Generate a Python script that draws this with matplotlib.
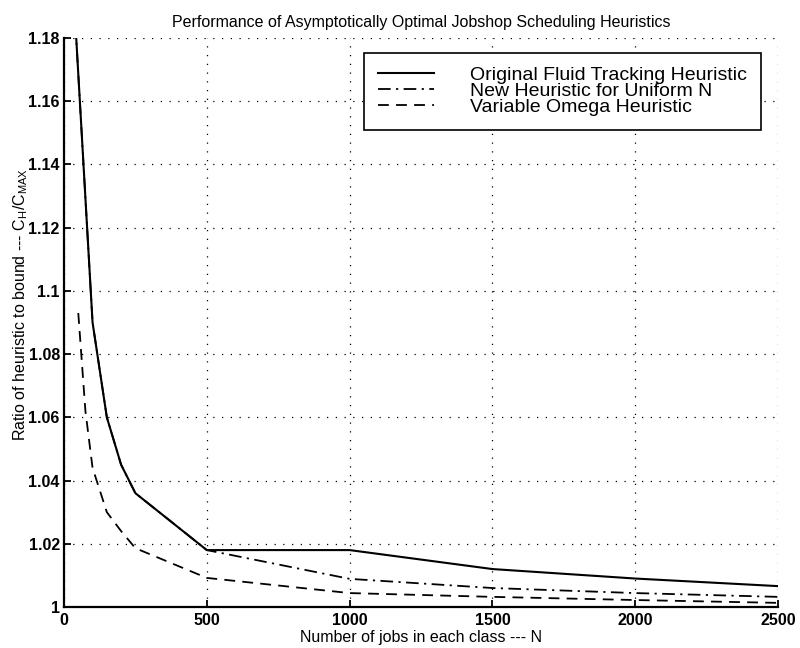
import matplotlib
matplotlib.use('Agg')
import matplotlib.pyplot as plt
from matplotlib.ticker import FuncFormatter

# values
n_fluid = [25, 100, 150, 200, 250, 500, 1000, 1500, 2000, 2500]
ratio_fluid = [1.208, 1.090, 1.060, 1.045, 1.036, 1.018, 1.018, 1.012, 1.009, 1.0066]

n_uniform = [25, 100, 150, 200, 250, 500, 1000, 1500, 2000, 2500]
ratio_uniform = [1.208, 1.090, 1.060, 1.045, 1.036, 1.018, 1.0089, 1.006, 1.0044, 1.0032]

n_omega = [50, 75, 100, 150, 200, 250, 500, 1000, 1500, 2000, 2500]
ratio_omega = [1.093, 1.062, 1.044, 1.030, 1.024, 1.0186, 1.0092, 1.0044, 1.0032, 1.0022, 1.0013]

labels = ['Original Fluid Tracking Heuristic',
          'New Heuristic for Uniform N',
          'Variable Omega Heuristic']

x_ticks = [0, 500, 1000, 1500, 2000, 2500]
y_ticks = [1.0, 1.02, 1.04, 1.06, 1.08, 1.1, 1.12, 1.14, 1.16, 1.18]

narrow = ['Liberation Sans Narrow', 'Liberation Sans', 'DejaVu Sans']
plain = ['Liberation Sans', 'DejaVu Sans']

fig = plt.figure(figsize=(8, 6.48), dpi=100)
ax = fig.add_axes([0.08, 0.0633, 0.8925, 0.878])

ax.plot(n_fluid, ratio_fluid, color='black', linestyle='-', linewidth=1.5, label=labels[0])
ax.plot(n_uniform, ratio_uniform, color='black', linestyle=(0, (7, 3, 1.2, 3)), linewidth=1.3, label=labels[1])
ax.plot(n_omega, ratio_omega, color='black', linestyle=(0, (6, 4)), linewidth=1.3, label=labels[2])

ax.set_xlim(0, 2500)
ax.set_ylim(1.0, 1.18)
ax.set_xticks(x_ticks)
ax.set_yticks(y_ticks)
ax.yaxis.set_major_formatter(FuncFormatter(lambda v, p: '%g' % round(v, 2)))

ax.grid(True, color='black', linestyle=(0, (1, 6)), linewidth=0.9)
ax.spines['top'].set_visible(False)
ax.spines['right'].set_visible(False)
ax.spines['left'].set_linewidth(1.6)
ax.spines['bottom'].set_linewidth(1.6)
ax.tick_params(direction='in', length=5, width=1.3, pad=3)
ax.tick_params(axis='x', pad=4)
for t in ax.get_xticklabels() + ax.get_yticklabels():
    t.set_family(narrow)
    t.set_fontsize(11.5)
    t.set_fontweight('bold')

ax.set_title('Performance of Asymptotically Optimal Jobshop Scheduling Heuristics',
             family=narrow, fontsize=11.5, pad=8)
ax.set_xlabel('Number of jobs in each class --- N', family=narrow, fontsize=11.5, labelpad=2)
ax.set_ylabel(r'Ratio of heuristic to bound --- $\mathregular{C_H/C_{MAX}}$',
              family=plain, fontsize=11.5)
ax.yaxis.set_label_coords(-0.048, 0.531)

leg = ax.legend(loc='upper right', bbox_to_anchor=(0.976, 0.974), frameon=True,
                fancybox=False, edgecolor='black', framealpha=1,
                prop={'family': plain, 'size': 14},
                handlelength=2.9, handletextpad=1.85, labelspacing=-0.08,
                borderpad=0.7, borderaxespad=0)
leg.get_frame().set_linewidth(1.2)

fig.savefig('out.png', dpi=100)
